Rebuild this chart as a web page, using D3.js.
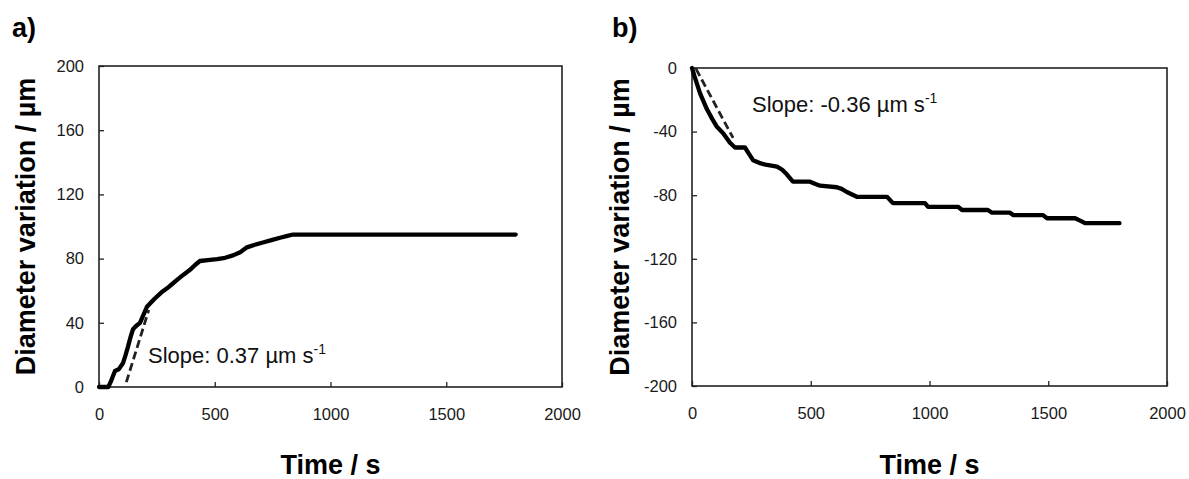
<!DOCTYPE html>
<html>
<head>
<meta charset="utf-8">
<script src="https://cdn.jsdelivr.net/npm/d3@7"></script>
<style>
  body { margin: 0; background: #fff; }
  svg { display: block; font-family: "Liberation Sans", Arial, sans-serif; }
  .tick text { font-size: 16.5px; fill: #1a1a1a; }
  .tick line { stroke: #222; stroke-width: 1.3; }
  .frame { fill: none; stroke: #222; stroke-width: 1.6; }
  .curve { fill: none; stroke: #000; stroke-width: 4.3; stroke-linejoin: round; stroke-linecap: round; }
  .fit { fill: none; stroke: #222; stroke-width: 2.8; stroke-dasharray: 8,4; }
  .title { font-weight: bold; font-size: 27px; fill: #000; }
  .slope { font-size: 22px; fill: #111; }
</style>
</head>
<body>
<script>
//==============================================================================
// DATA
//==============================================================================

// panel a) growth
const timeA = [0, 40, 50, 69, 85, 104, 115, 125, 136, 147, 160, 177, 192, 207, 240, 270, 294, 315, 337,
  365, 393, 415, 436, 470, 510, 545, 579, 610, 639, 670, 708, 745, 782, 810, 838, 1800];
const valueA = [0, 0, 3, 10, 11, 15, 20, 25, 31, 36, 38, 40, 45, 50, 55, 59, 61.5, 64, 66.7,
  70, 73, 76, 78.5, 79, 79.7, 80.5, 82, 84, 87, 88.5, 90, 91.5, 93, 94, 95, 95];
const fitTimeA = [118, 215];
const fitValueA = [3, 48];

// panel b) shrinking
const timeB = [0, 10, 34, 63, 85, 105, 131, 160, 181, 223, 240, 257, 290, 316, 358, 380, 400, 425, 497,
  520, 539, 610, 630, 652, 694, 821, 846, 981, 994, 1120, 1137, 1246, 1263, 1339, 1352, 1478, 1495,
  1613, 1634, 1655, 1800];
const valueB = [0, -5, -16, -26, -32, -37, -41, -47, -50, -50, -54, -58, -60, -61, -62, -64, -67, -71.5, -71.5,
  -73, -74, -75, -76, -78, -81, -81, -85, -85, -87.3, -87.3, -89.3, -89.3, -91, -91, -92.5, -92.5, -94.5,
  -94.5, -96, -97.6, -97.6];
const fitTimeB = [17, 173];
const fitValueB = [-0.6, -44];

const xTicks = [0, 500, 1000, 1500, 2000];
const yTicksA = [0, 40, 80, 120, 160, 200];
const yTicksB = [0, -40, -80, -120, -160, -200];

//==============================================================================
// PARAMETERS
//==============================================================================

const svg = d3.select('body').append('svg')
  .attr('width', 1189)
  .attr('height', 479);

const panels = [
  { label: 'a)', lx: 12, time: timeA, value: valueA, fitT: fitTimeA, fitV: fitValueA,
    xr: [99, 562], yr: [387, 66], yd: [0, 200], yTicks: yTicksA, titleX: 35,
    slope: ['Slope: 0.37 µm s', 148, 363] },
  { label: 'b)', lx: 612, time: timeB, value: valueB, fitT: fitTimeB, fitV: fitValueB,
    xr: [692, 1167], yr: [386, 68], yd: [-200, 0], yTicks: yTicksB, titleX: 629,
    slope: ['Slope: -0.36 µm s', 752, 112] }
];

//==============================================================================
// DRAW
//==============================================================================

panels.forEach(p => {
  const x = d3.scaleLinear().domain([0, 2000]).range(p.xr);
  const y = d3.scaleLinear().domain(p.yd).range(p.yr);

  // x axis
  svg.append('g')
    .attr('transform', `translate(0,${p.yr[0]})`)
    .call(d3.axisBottom(x).tickValues(xTicks).tickSizeInner(-5).tickSizeOuter(0)
      .tickPadding(21).tickFormat(d => String(d)))
    .call(g => g.select('.domain').remove());

  // y axis
  svg.append('g')
    .attr('transform', `translate(${p.xr[0]},0)`)
    .call(d3.axisLeft(y).tickValues(p.yTicks).tickSizeInner(-5).tickSizeOuter(0)
      .tickPadding(15).tickFormat(d => String(d)))
    .call(g => g.select('.domain').remove());

  // frame
  svg.append('rect')
    .attr('class', 'frame')
    .attr('x', p.xr[0])
    .attr('y', p.yr[1])
    .attr('width', p.xr[1] - p.xr[0])
    .attr('height', p.yr[0] - p.yr[1]);

  // data curve
  const line = d3.line()
    .x(d => x(d[0]))
    .y(d => y(d[1]));

  svg.append('path')
    .datum(p.time.map((t, i) => [t, p.value[i]]))
    .attr('class', 'curve')
    .attr('d', line);

  // fitted slope
  svg.append('path')
    .datum(p.fitT.map((t, i) => [t, p.fitV[i]]))
    .attr('class', 'fit')
    .attr('d', line);

  // slope text
  const st = svg.append('text')
    .attr('class', 'slope')
    .attr('x', p.slope[1])
    .attr('y', p.slope[2])
    .text(p.slope[0]);
  st.append('tspan')
    .attr('dy', -9)
    .style('font-size', '14px')
    .text('-1');

  // axis titles
  svg.append('text')
    .attr('class', 'title')
    .attr('transform', `translate(${p.titleX},${(p.yr[0] + p.yr[1]) / 2}) rotate(-90)`)
    .attr('text-anchor', 'middle')
    .text('Diameter variation / µm');

  svg.append('text')
    .attr('class', 'title')
    .attr('x', (p.xr[0] + p.xr[1]) / 2)
    .attr('y', 474)
    .attr('text-anchor', 'middle')
    .text('Time / s');

  // panel label
  svg.append('text')
    .attr('class', 'title')
    .attr('x', p.lx)
    .attr('y', 37)
    .text(p.label);
});
</script>
</body>
</html>
